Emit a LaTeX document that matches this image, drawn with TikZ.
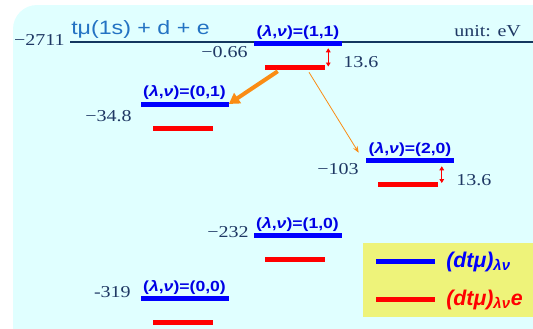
\documentclass[tikz,border=0pt]{standalone}
\usepackage{fontspec}
\setmainfont[FakeStretch=1.2]{Liberation Serif}
\setsansfont[FakeStretch=1.2]{Liberation Sans}
\newfontfamily\legendfont{Liberation Sans}
\usetikzlibrary{arrows.meta,calc,positioning}

\definecolor{bgcyan}{RGB}{224,255,255}
\definecolor{legyellow}{RGB}{238,243,122}
\definecolor{numnavy}{RGB}{31,56,100}
\definecolor{linenavy}{RGB}{20,55,95}
\definecolor{titleblue}{RGB}{36,115,195}
\definecolor{arrorange}{RGB}{250,140,20}

\newcommand{\lamnu}[2]{(\textit{λ},\textit{ν})=(#1,#2)}

\tikzset{
  bluelev/.style={fill=blue, inner sep=0pt, minimum height=3.75pt, minimum width=66pt},
  redlev/.style={fill=red, inner sep=0pt, minimum height=3.75pt, minimum width=45pt},
  lab/.style={text=blue!90!black, font=\sffamily\bfseries\fontsize{11}{11}\selectfont, inner sep=1pt},
  num/.style={text=numnavy, font=\fontsize{12.5}{12.5}\selectfont, inner sep=0pt},
  gap/.style={red, line width=0.6pt, {Triangle[width=3.5pt,length=3pt]}-{Triangle[width=3.5pt,length=3pt]}},
  legtxt/.style={font=\legendfont\bfseries\itshape\fontsize{16}{16}\selectfont, inner sep=0pt, anchor=west}
}

\begin{document}
\begin{tikzpicture}[x=0.75pt, y=-0.75pt]
\useasboundingbox (0,0) rectangle (533,329);
\fill[bgcyan, rounded corners=18pt] (13,5) rectangle (560,360);

% dissociation limit
\coordinate (lim0) at (70,41.5);
\coordinate (lim1) at (533,41.5);
\draw[linenavy, line width=1.5pt] (lim0) -- (lim1);
\node[text=titleblue, font=\sffamily\fontsize{14.5}{14.5}\selectfont, anchor=base west, inner sep=0pt] (title) at (71,34.5) {tμ(1s) + d + e};
\node[num, anchor=east] (e2711) at (65,39.5) {−2711};
\node[num, anchor=west] (unit) at (454,31) {unit: eV};

% (1,1)
\node[bluelev] (b11) at (298,43.5) {};
\node[lab, above=0pt of b11] (l11) {\lamnu{1}{1}};
\node[redlev] (r11) at (295,67.5) {};
\node[num, anchor=east] (e066) at (248,52) {−0.66};
\draw[gap] ($(r11.east |- b11.south)+(3,2)$) -- ($(r11.east)+(3,-1)$);
\node[num, anchor=west] (g11) at (343,62.5) {13.6};

% (0,1)
\node[bluelev] (b01) at (184.5,104) {};
\node[lab, above=0pt of b01] (l01) {\lamnu{0}{1}};
\node[redlev] (r01) at (182.5,128) {};
\node[num, anchor=east] (e348) at (132,116.5) {−34.8};

% (2,0)
\node[bluelev] (b20) at (410,160.5) {};
\node[lab, above=0pt of b20] (l20) {\lamnu{2}{0}};
\node[redlev] (r20) at (407.5,184) {};
\node[num, anchor=east] (e103) at (359,169) {−103};
\draw[gap] ($(r20.east |- b20.south)+(4,3)$) -- ($(r20.east)+(4,-1)$);
\node[num, anchor=west] (g20) at (456,180) {13.6};

% (1,0)
\node[bluelev] (b10) at (297.5,235.5) {};
\node[lab, above=0pt of b10] (l10) {\lamnu{1}{0}};
\node[redlev] (r10) at (295,259.7) {};
\node[num, anchor=east] (e232) at (249,232) {−232};

% (0,0)
\node[bluelev] (b00) at (184.5,298.5) {};
\node[lab, above=0pt of b00] (l00) {\lamnu{0}{0}};
\node[redlev] (r00) at (182.5,322) {};
\node[num, anchor=east] (e319) at (131,292) {-319};

% transitions
\draw[arrorange, line width=3pt, -{Triangle[width=9pt,length=8pt]}] ($(r11.south west)+(13,1)$) -- (b01.east);
\draw[arrorange, line width=0.6pt, -{Stealth[length=5pt]}] ($(r11.south)+(14,2)$) -- ($(b20.north west)+(-7,-5)$);

% legend
\node[fill=legyellow, minimum width=127.5pt, minimum height=55.5pt, anchor=north west, inner sep=0pt] (leg) at (363,243) {};
\node[bluelev, minimum width=44.25pt] (legb) at (405.5,261) {};
\node[redlev, minimum width=44.25pt] (legr) at (405.5,299) {};
\node[legtxt, text=blue] (legbt) at (446,262) {(dtμ)\textsubscript{λν}};
\node[legtxt, text=red] (legrt) at (446,300) {(dtμ)\textsubscript{λν}e};
\end{tikzpicture}
\end{document}
